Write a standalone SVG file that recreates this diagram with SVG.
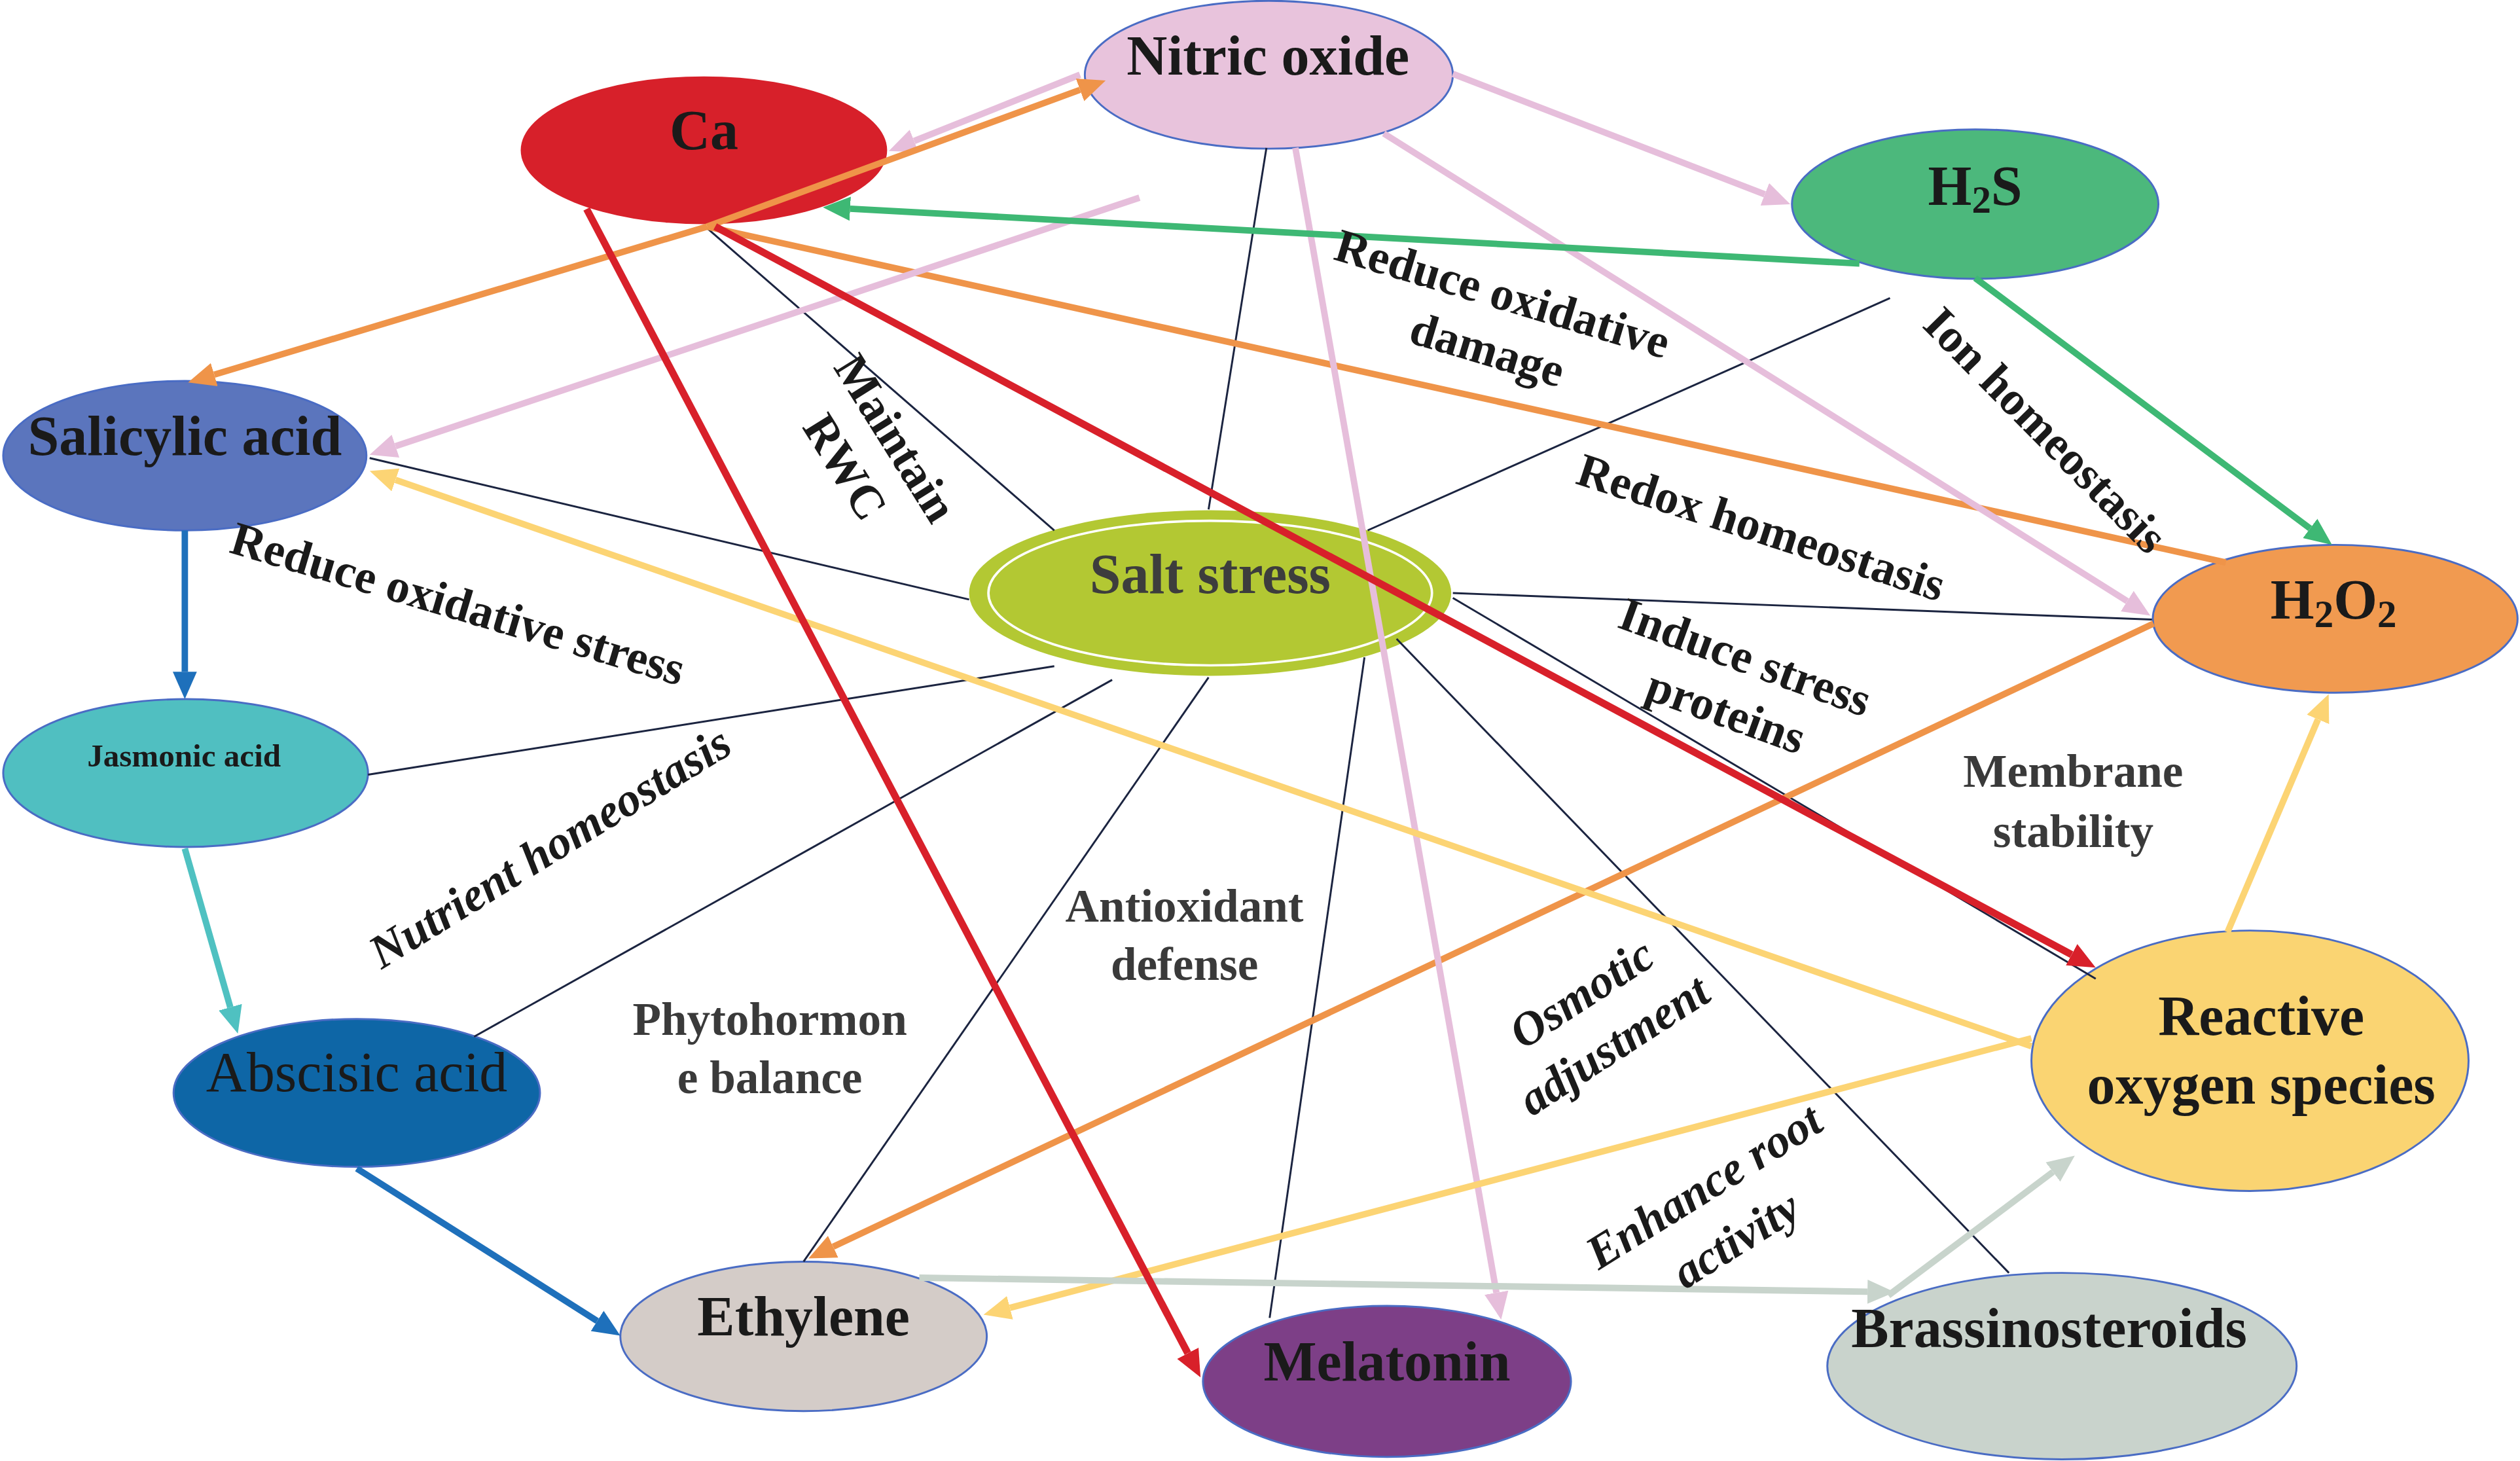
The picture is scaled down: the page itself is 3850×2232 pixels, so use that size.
<svg xmlns="http://www.w3.org/2000/svg" width="3850" height="2232" viewBox="0 0 3850 2232">
<style>
.n{stroke:#4a6cc4;stroke-width:1.2}
.t{font-family:"Liberation Serif","Times New Roman",serif;font-weight:bold;font-size:35px;text-anchor:middle;fill:#1a1a1a}
.lb{font-family:"Liberation Serif","Times New Roman",serif;font-weight:bold;font-size:29.5px;text-anchor:middle;fill:#1a1a1a}
.gl{fill:#3a3a3a;font-size:29px}
.it{font-style:italic}
.k{stroke:#1b2440;stroke-width:1.2;fill:none}
.c{fill:none;stroke-width:4}
.pk{stroke:#e6bedb}.or{stroke:#ef9449}.rd{stroke:#d8202a;stroke-width:4.5}.gr{stroke:#3eb874}.ye{stroke:#fcd474}.tl{stroke:#4fc1c1}.bl{stroke:#1e70bb}.gy{stroke:#c8d4cc}
</style>
<defs>
<marker id="aPk" markerUnits="userSpaceOnUse" markerWidth="18" markerHeight="18" viewBox="0 -9 18 18" refX="0" refY="0" orient="auto"><path d="M0,-7.5 L17,0 L0,7.5 Z" fill="#e6bedb"/></marker>
<marker id="aOr" markerUnits="userSpaceOnUse" markerWidth="18" markerHeight="18" viewBox="0 -9 18 18" refX="0" refY="0" orient="auto"><path d="M0,-7.5 L17,0 L0,7.5 Z" fill="#ef9449"/></marker>
<marker id="aRd" markerUnits="userSpaceOnUse" markerWidth="18" markerHeight="18" viewBox="0 -9 18 18" refX="0" refY="0" orient="auto"><path d="M0,-7.5 L17,0 L0,7.5 Z" fill="#d8202a"/></marker>
<marker id="aGr" markerUnits="userSpaceOnUse" markerWidth="18" markerHeight="18" viewBox="0 -9 18 18" refX="0" refY="0" orient="auto"><path d="M0,-7.5 L17,0 L0,7.5 Z" fill="#3eb874"/></marker>
<marker id="aYe" markerUnits="userSpaceOnUse" markerWidth="18" markerHeight="18" viewBox="0 -9 18 18" refX="0" refY="0" orient="auto"><path d="M0,-7.5 L17,0 L0,7.5 Z" fill="#fcd474"/></marker>
<marker id="aTl" markerUnits="userSpaceOnUse" markerWidth="18" markerHeight="18" viewBox="0 -9 18 18" refX="0" refY="0" orient="auto"><path d="M0,-7.5 L17,0 L0,7.5 Z" fill="#4fc1c1"/></marker>
<marker id="aBl" markerUnits="userSpaceOnUse" markerWidth="18" markerHeight="18" viewBox="0 -9 18 18" refX="0" refY="0" orient="auto"><path d="M0,-7.5 L17,0 L0,7.5 Z" fill="#1e70bb"/></marker>
<marker id="aGy" markerUnits="userSpaceOnUse" markerWidth="18" markerHeight="18" viewBox="0 -9 18 18" refX="0" refY="0" orient="auto"><path d="M0,-7.5 L17,0 L0,7.5 Z" fill="#c8d4cc"/></marker>
</defs>
<rect width="3850" height="2232" fill="#ffffff"/>
<g transform="scale(2.455357)">
<g id="nodes">
<g id="node-nitric-oxide"><ellipse class="n" cx="789.5" cy="46.5" rx="114.5" ry="46" fill="#e8c3dc"/><text class="t" x="789" y="46.5">Nitric oxide</text></g>
<g id="node-ca"><ellipse cx="438" cy="93.5" rx="114" ry="46" fill="#d7202a"/><text class="t" x="438" y="93">Ca</text></g>
<g id="node-h2s"><ellipse class="n" cx="1229" cy="127" rx="114" ry="46.5" fill="#4cb87c"/><text class="t" x="1229" y="127.5">H<tspan font-size="24" dy="5">2</tspan><tspan dy="-5">S</tspan></text></g>
<g id="node-salicylic-acid"><ellipse class="n" cx="115" cy="283.5" rx="113" ry="46.5" fill="#5b75bd"/><text class="t" x="115" y="283">Salicylic acid</text></g>
<g id="node-jasmonic-acid"><ellipse class="n" cx="115.5" cy="481" rx="113.5" ry="46" fill="#50bfc1"/><text class="t" x="114.5" y="477" font-size="20" style="font-size:20px">Jasmonic acid</text></g>
<g id="node-abscisic-acid"><ellipse class="n" cx="222" cy="680" rx="114" ry="46" fill="#0e66a6"/><text class="t" x="222" y="679" style="font-weight:normal">Abscisic acid</text></g>
<g id="node-ethylene"><ellipse class="n" cx="500" cy="831.5" rx="114" ry="46.5" fill="#d4ccc8"/><text class="t" x="500" y="831">Ethylene</text></g>
<g id="node-melatonin"><ellipse class="n" cx="863" cy="859.5" rx="114.5" ry="47" fill="#7d3f87"/><text class="t" x="863" y="859">Melatonin</text></g>
<g id="node-brassinosteroids"><ellipse class="n" cx="1283" cy="850" rx="146" ry="58" fill="#c9d3cc"/><text class="t" x="1275" y="838">Brassinosteroids</text></g>
<g id="node-ros"><ellipse class="n" cx="1400" cy="660" rx="136" ry="81" fill="#fad472"/><text class="t" x="1407" y="644">Reactive</text><text class="t" x="1407" y="686.5">oxygen species</text></g>
<g id="node-h2o2"><ellipse class="n" cx="1453" cy="385" rx="113.5" ry="46" fill="#f19a50"/><text class="t" x="1452" y="385">H<tspan font-size="24" dy="5">2</tspan><tspan dy="-5">O</tspan><tspan font-size="24" dy="5">2</tspan></text></g>
<g id="node-salt-stress"><ellipse cx="753" cy="369" rx="150" ry="51.5" fill="#b3c833"/><ellipse cx="753" cy="369" rx="138" ry="45" fill="none" stroke="#ffffff" stroke-width="1.5"/><text class="t" x="753" y="369" style="fill:#3d3d3d">Salt stress</text></g>
</g>
<g id="connectors">
<line class="k" x1="656" y1="330" x2="440" y2="142"/>
<line class="k" x1="603" y1="373" x2="230" y2="285"/>
<line class="k" x1="656" y1="414.5" x2="229" y2="482"/>
<line class="k" x1="692" y1="423" x2="295" y2="645"/>
<line class="k" x1="752" y1="421.5" x2="500" y2="785"/>
<line class="k" x1="849" y1="409" x2="790" y2="820"/>
<line class="k" x1="869" y1="397.5" x2="1250" y2="792"/>
<line class="k" x1="904" y1="372" x2="1304" y2="609"/>
<line class="k" x1="904" y1="369" x2="1339" y2="385.5"/>
<line class="k" x1="851" y1="330" x2="1176" y2="185.5"/>
<line class="k" x1="752" y1="317" x2="788" y2="92"/>
<line class="c or" x1="440" y1="141" x2="1385" y2="350"/>
<line class="c pk" x1="672" y1="46.5" x2="568.8" y2="87.7" marker-end="url(#aPk)"/>
<line class="c or" x1="440" y1="141" x2="672" y2="55.9" marker-end="url(#aOr)"/>
<line class="c or" x1="440" y1="141" x2="133.3" y2="233.1" marker-end="url(#aOr)"/>
<line class="c or" x1="1340" y1="388" x2="518.4" y2="775.7" marker-end="url(#aOr)"/>
<line class="c pk" x1="904" y1="46" x2="1098.1" y2="120.9" marker-end="url(#aPk)"/>
<line class="c pk" x1="861" y1="83" x2="1323.6" y2="374" marker-end="url(#aPk)"/>
<line class="c pk" x1="806" y1="92" x2="931.1" y2="804.3" marker-end="url(#aPk)"/>
<line class="c pk" x1="709" y1="123" x2="246.1" y2="277.6" marker-end="url(#aPk)"/>
<line class="c gr" x1="1157" y1="164" x2="529" y2="129.9" marker-end="url(#aGr)"/>
<line class="c gr" x1="1229" y1="173" x2="1437.4" y2="328.8" marker-end="url(#aGr)"/>
<line class="c ye" x1="1264" y1="651" x2="246.1" y2="298.6" marker-end="url(#aYe)"/>
<line class="c ye" x1="1264" y1="646" x2="628.4" y2="813.7" marker-end="url(#aYe)"/>
<line class="c ye" x1="1386" y1="580" x2="1442.3" y2="447.6" marker-end="url(#aYe)"/>
<line class="c tl" x1="115" y1="528" x2="143.3" y2="626.7" marker-end="url(#aTl)"/>
<line class="c bl" x1="115" y1="330" x2="115" y2="418" marker-end="url(#aBl)"/>
<line class="c bl" x1="222" y1="727" x2="371.6" y2="821.9" marker-end="url(#aBl)"/>
<line class="c gy" x1="572" y1="795" x2="1162" y2="803.7" marker-end="url(#aGy)"/>
<line class="c gy" x1="1175" y1="806" x2="1277.4" y2="729.2" marker-end="url(#aGy)"/>
<line class="c rd" x1="365" y1="130" x2="739.1" y2="842" marker-end="url(#aRd)"/>
<line class="c rd" x1="445" y1="141" x2="1289" y2="594" marker-end="url(#aRd)"/>
</g>
<g id="labels">
<text class="lb" transform="translate(557.5,272.5) rotate(58)" y="10">Maintain</text>
<text class="lb" transform="translate(526,290.5) rotate(58)" y="10">RWC</text>
<text class="lb" transform="translate(285,375.5) rotate(16.5)" y="10">Reduce oxidative stress</text>
<text class="lb" transform="translate(935,182.6) rotate(16.7)" y="10">Reduce oxidative</text>
<text class="lb" transform="translate(925.5,217.3) rotate(16.7)" y="10">damage</text>
<text class="lb" transform="translate(1273,267.5) rotate(45.4)" y="10">Ion homeostasis</text>
<text class="lb" transform="translate(1096,328) rotate(18)" y="10">Redox homeostasis</text>
<text class="lb" transform="translate(1086,408.7) rotate(20)" y="10">Induce stress</text>
<text class="lb" transform="translate(1074,442.5) rotate(20)" y="10">proteins</text>
<text class="lb it" transform="translate(342,527) rotate(-31.7)" y="10">Nutrient homeostasis</text>
<text class="lb it" transform="translate(984,618) rotate(-33)" y="10">Osmotic</text>
<text class="lb it" transform="translate(1004,650) rotate(-33)" y="10">adjustment</text>
<text class="lb it" transform="translate(1060,738) rotate(-32)" y="10">Enhance root</text>
<text class="lb it" transform="translate(1080,771) rotate(-32)" y="10">activity</text>
<text class="lb gl" x="1290" y="489.5">Membrane</text>
<text class="lb gl" x="1290" y="527">stability</text>
<text class="lb gl" x="737" y="573.5">Antioxidant</text>
<text class="lb gl" x="737" y="609.7">defense</text>
<text class="lb gl" x="479" y="644">Phytohormon</text>
<text class="lb gl" x="479" y="680">e balance</text>
</g>
</g>
</svg>
